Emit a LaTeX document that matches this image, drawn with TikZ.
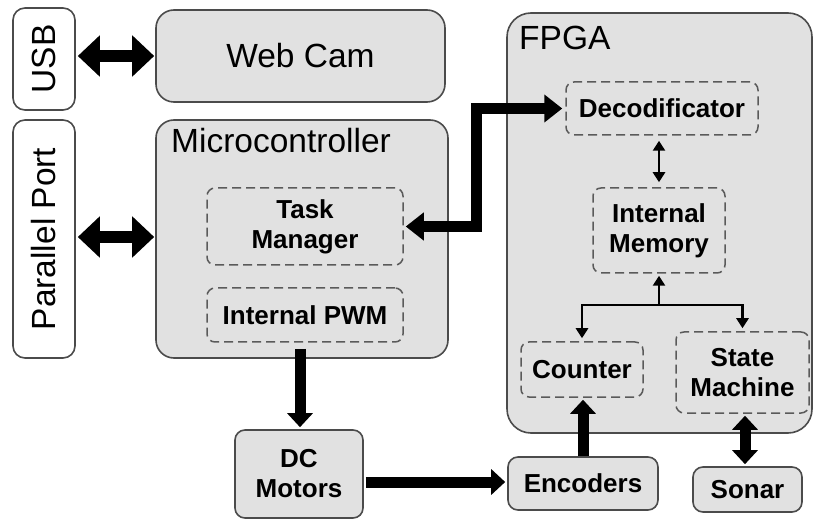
\documentclass[tikz,border=0pt]{standalone}
\usepackage{fontspec}
\setmainfont{Liberation Sans}
\usepackage{xcolor}
\usetikzlibrary{arrows.meta}

\definecolor{boxfill}{RGB}{225,225,225}
\definecolor{boxline}{RGB}{75,75,75}
\definecolor{dashline}{RGB}{90,90,90}

\newcommand{\bigfont}{\fontsize{33.5}{40}\selectfont}
\newcommand{\smallbold}{\fontsize{26}{30}\selectfont\bfseries}

\begin{document}
\begin{tikzpicture}[x=1pt, y=-1pt]
	\tikzstyle{port}=[draw=boxline, line width=1.6pt, fill=white, rounded corners=12pt, inner sep=0pt, font=\bigfont]
	\tikzstyle{block}=[draw=boxline, line width=1.6pt, fill=boxfill, rounded corners=18pt, inner sep=0pt]
	\tikzstyle{part}=[draw=dashline, line width=1.5pt, dash pattern=on 9pt off 5pt, fill=boxfill, rounded corners=8pt, inner sep=0pt, align=center, font=\smallbold]
	\tikzstyle{device}=[draw=boxline, line width=1.6pt, fill=boxfill, rounded corners=10pt, inner sep=0pt, align=center, font=\smallbold]
	\tikzstyle{title}=[inner sep=0pt, anchor=base west, font=\bigfont]
	\tikzstyle{fat}=[line width=12pt, {Triangle[length=22pt,width=40pt]}-{Triangle[length=22pt,width=40pt]}]
	\tikzstyle{bus}=[line width=11pt, {Triangle[length=18pt,width=27pt]}-{Triangle[length=18pt,width=27pt]}]
	\tikzstyle{flow}=[line width=11pt, -{Triangle[length=14pt,width=25pt]}]
	\tikzstyle{link}=[line width=2.5pt, -{Triangle[length=10pt,width=12pt]}]

	\useasboundingbox (0,0) rectangle (814,521);

	% outer ports
	\draw node[port, minimum width=62pt, minimum height=102pt] at (44,59) (usb) {\rotatebox{90}{USB}};
	\draw node[port, minimum width=62pt, minimum height=238pt] at (44,239) (par) {\rotatebox{90}{Parallel Port}};

	% main blocks
	\draw node[block, minimum width=289pt, minimum height=92pt, font=\bigfont] at (300.5,56) (cam) {Web Cam};
	\draw node[block, minimum width=292pt, minimum height=238pt] at (302,239) (micro) {};
	\draw node[title] at (171,153) (microname) {Microcontroller};
	\draw node[block, rounded corners=24pt, minimum width=305pt, minimum height=420pt] at (659.5,223) (fpga) {};
	\draw node[title] at (519,50) (fpganame) {FPGA};

	% inside the microcontroller
	\draw node[part, minimum width=196pt, minimum height=77pt] at (305,226.5) (task) {Task\\Manager};
	\draw node[part, minimum width=196pt, minimum height=54pt] at (305,315) (pwm) {Internal PWM};

	% inside the FPGA
	\draw node[part, minimum width=192pt, minimum height=53pt] at (662,108.5) (dec) {Decodificator};
	\draw node[part, minimum width=132pt, minimum height=85pt] at (659,230.5) (mem) {Internal\\Memory};
	\draw node[part, minimum width=122pt, minimum height=55pt] at (582,369.5) (cnt) {Counter};
	\draw node[part, minimum width=133pt, minimum height=81pt] at (742.5,372.5) (fsm) {State\\Machine};

	% devices
	\draw node[device, minimum width=128pt, minimum height=88pt] at (299,474) (motors) {DC\\Motors};
	\draw node[device, minimum width=150pt, minimum height=53pt] at (583,483.5) (enc) {Encoders};
	\draw node[device, minimum width=109pt, minimum height=45pt] at (747.5,489.5) (sonar) {Sonar};

	% connections
	\draw[fat, shorten <=2pt, shorten >=1pt] (usb.east |- 0,56) -- (cam.west);
	\draw[fat, shorten <=2pt, shorten >=1pt] (par.east |- 0,237) -- (micro.west |- 0,237);
	\draw[bus, shorten <=2pt, shorten >=3pt] (task.east) -- ++(73,0) |- (dec.west);
	\draw[flow, shorten <=6pt, shorten >=2pt] (pwm.south -| 300,0) -- (motors.north -| 300,0);
	\draw[flow, shorten <=2pt, shorten >=2pt] (motors.east |- 0,482) -- (enc.west |- 0,482);
	\draw[flow, shorten >=2pt] (enc.north) -- (cnt.south -| enc.north);
	\draw[flow, {Triangle[length=14pt,width=25pt]}-{Triangle[length=14pt,width=25pt]}, shorten <=2pt, shorten >=2pt] (fsm.south -| 745,0) -- (sonar.north -| 745,0);
	\draw[link, {Triangle[length=10pt,width=12pt]}-{Triangle[length=10pt,width=12pt]}, shorten <=5pt, shorten >=5pt] (dec.south -| mem.north) -- (mem.north);
	\coordinate (fork) at (659,305);
	\draw[link, shorten >=2pt] (fork) -- (mem.south);
	\draw[link, shorten >=3pt] (fork) -| (cnt.north);
	\draw[link, shorten >=3pt] (fork) -| (fsm.north);
\end{tikzpicture}
\end{document}
